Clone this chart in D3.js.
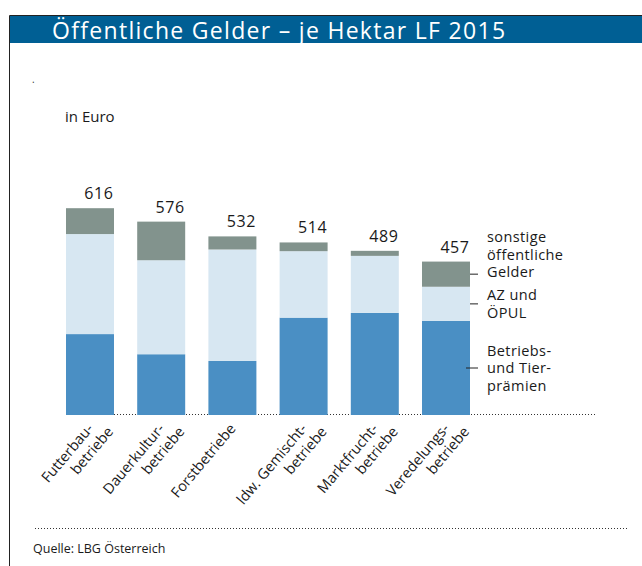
<!DOCTYPE html>
<html>
<head>
<meta charset="utf-8">
<script src="https://cdn.jsdelivr.net/npm/d3@7"></script>
<style>
  body { margin: 0; background: #fff; }
  svg { display: block; font-family: "Open Sans", "Noto Sans", sans-serif; }
</style>
</head>
<body>
<svg id="chart" width="642" height="566"></svg>
<script>
// Betriebsformen (two-line labels split at the hyphen)
const categories = [
  ["Futterbau-", "betriebe"],
  ["Dauerkultur-", "betriebe"],
  ["Forstbetriebe"],
  ["ldw. Gemischt-", "betriebe"],
  ["Marktfrucht-", "betriebe"],
  ["Veredelungs-", "betriebe"]
];
const totals = [616, 576, 532, 514, 489, 457];
// segments, bottom to top (Euro je Hektar)
const praemien = [241, 181, 161, 290, 304, 280];
const azOepul = [298, 280, 332, 198, 170, 102];
const sonstige = totals.map((t, i) => t - praemien[i] - azOepul[i]);

const seriesNames = ["praemien", "azOepul", "sonstige"];
const seriesColors = ["#4a8fc4", "#d7e7f2", "#82938d"];
const legendLines = [
  ["Betriebs-", "und Tier-", "prämien"],
  ["AZ und", "ÖPUL"],
  ["sonstige", "öffentliche", "Gelder"]
];

const svg = d3.select("#chart");

const rows = categories.map((c, i) => ({
  key: c.join(""), label: c, total: totals[i],
  praemien: praemien[i], azOepul: azOepul[i], sonstige: sonstige[i]
}));

const x = d3.scaleBand()
  .domain(rows.map(d => d.key))
  .range([66, 470])
  .paddingInner(0.326)
  .paddingOuter(0);

const y = d3.scaleLinear().domain([0, 700]).range([415, 180]);

const stack = d3.stack().keys(seriesNames)(rows);

// frame and title bar
svg.append("rect")
  .attr("x", 9).attr("y", 16).attr("width", 633).attr("height", 27)
  .attr("fill", "#005f94");
svg.append("path")
  .attr("d", "M9.5,566V15.5H642")
  .attr("fill", "none").attr("stroke", "#222").attr("stroke-width", 1);
svg.append("text")
  .attr("x", 52).attr("y", 38.5)
  .attr("fill", "#fff")
  .style("font-size", "23px")
  .style("letter-spacing", "1.3px")
  .text("Öffentliche Gelder – je Hektar LF 2015");

svg.append("text").attr("x", 32).attr("y", 83)
  .style("font-size", "10px").attr("fill", "#333").text(".");

svg.append("text")
  .attr("x", 65).attr("y", 122)
  .style("font-size", "15px").attr("fill", "#1a1a1a")
  .text("in Euro");

// baseline
svg.append("line")
  .attr("x1", 66).attr("x2", 597)
  .attr("y1", y(0) - 0.5).attr("y2", y(0) - 0.5)
  .attr("stroke", "#333").attr("stroke-dasharray", "1,2");

// bars
svg.append("g")
  .selectAll("g")
  .data(stack)
  .join("g")
    .attr("fill", (d, i) => seriesColors[i])
  .selectAll("rect")
  .data(d => d)
  .join("rect")
    .attr("x", d => x(d.data.key))
    .attr("y", d => y(d[1]))
    .attr("width", x.bandwidth())
    .attr("height", d => y(d[0]) - y(d[1]));

// totals
svg.append("g")
  .selectAll("text")
  .data(rows)
  .join("text")
    .attr("x", d => x(d.key) + x.bandwidth() / 2 + 9)
    .attr("y", d => y(d.total) - 9)
    .attr("text-anchor", "middle")
    .style("font-size", "16px")
    .style("letter-spacing", "0.6px")
    .attr("fill", "#1a1a1a")
    .text(d => d.total);

// category labels, rotated
const lab = svg.append("g")
  .selectAll("text")
  .data(rows)
  .join("text")
    .attr("transform", d => `translate(${x(d.key) + x.bandwidth() / 2 + 4},429) rotate(-50)`)
    .attr("text-anchor", "end")
    .style("font-size", "14.5px")
    .attr("fill", "#1a1a1a");
lab.each(function(d) {
  const t = d3.select(this);
  d.label.forEach((line, j) => {
    t.append("tspan")
      .attr("x", j * 10.6)
      .attr("dy", j === 0 ? 0 : 17.2)
      .text(line);
  });
});

// legend at last bar
const last = stack.map(s => s[s.length - 1]);
const barRight = x(rows[rows.length - 1].key) + x.bandwidth();
const lineH = 17.5;
const legend = svg.append("g").attr("fill", "#1a1a1a")
  .style("font-size", "14.5px").style("letter-spacing", "0.4px");
last.forEach((seg, i) => {
  const mid = (y(seg[0]) + y(seg[1])) / 2;
  legend.append("line")
    .attr("x1", barRight - (i === 0 ? 4 : 0)).attr("x2", barRight + 8)
    .attr("y1", mid).attr("y2", mid)
    .attr("stroke", "#222").attr("stroke-width", 1);
  const lines = legendLines[i];
  // top group sits above its tick, the others are centred on it
  const first = i === 2
    ? mid + 3 - (lines.length - 1) * lineH
    : mid + 5 - (lines.length - 1) * lineH / 2;
  lines.forEach((l, j) => {
    legend.append("text")
      .attr("x", barRight + 17)
      .attr("y", first + j * lineH)
      .text(l);
  });
});

// source
svg.append("line")
  .attr("x1", 35).attr("x2", 628)
  .attr("y1", 528.5).attr("y2", 528.5)
  .attr("stroke", "#333").attr("stroke-dasharray", "1,2");
svg.append("text")
  .attr("x", 33).attr("y", 553)
  .style("font-size", "12.5px").attr("fill", "#1a1a1a")
  .text("Quelle: LBG Österreich");
</script>
</body>
</html>
